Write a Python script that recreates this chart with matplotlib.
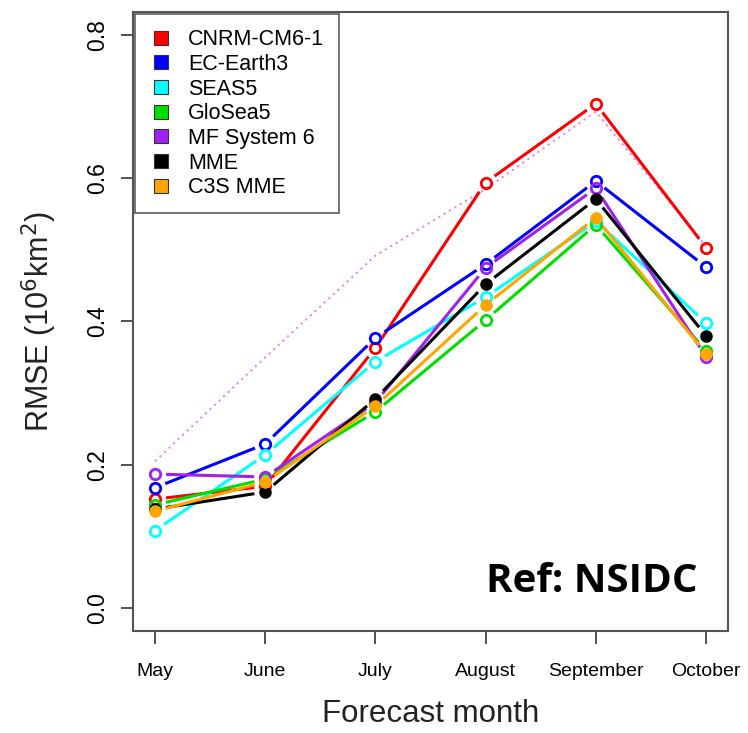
import numpy as np
import matplotlib
matplotlib.use('Agg')
import matplotlib.pyplot as plt
from matplotlib.lines import Line2D

months = ['May', 'June', 'July', 'August', 'September', 'October']

cnrm = [0.152, 0.170, 0.363, 0.594, 0.704, 0.503]
ecearth = [0.168, 0.229, 0.377, 0.480, 0.596, 0.476]
seas5 = [0.108, 0.214, 0.344, 0.434, 0.540, 0.398]
glosea = [0.144, 0.180, 0.274, 0.402, 0.535, 0.359]
mfsys = [0.187, 0.183, 0.287, 0.475, 0.586, 0.351]
mme = [0.138, 0.162, 0.292, 0.452, 0.571, 0.380]
c3s_mme = [0.135, 0.176, 0.282, 0.423, 0.545, 0.355]
dotted = [0.205, 0.350, 0.492, 0.585, 0.693, 0.505]

names = ['CNRM-CM6-1', 'EC-Earth3', 'SEAS5', 'GloSea5', 'MF System 6', 'MME', 'C3S MME']
colors = ['#ff0000', '#0000ff', '#00ffff', '#00e000', '#a020f0', '#000000', '#ffa500']
series = [cnrm, ecearth, seas5, glosea, mfsys, mme, c3s_mme]
filled = [False, False, False, False, False, True, True]

plt.rcParams['font.family'] = ['Liberation Sans', 'DejaVu Sans']

fig = plt.figure(figsize=(7.48, 7.33), dpi=100)
ax = fig.add_axes([0.1778, 0.1392, 0.7955, 0.8444])
x = np.arange(1, 7)
ax.set_xlim(0.8, 6.2)
ax.set_ylim(-0.032, 0.832)

# dotted reference line (no legend entry)
ax.plot(x, dotted, color='#ee82ee', lw=1.5, ls=(0, (1, 2)), zorder=1)


def gapped(ax, xs, ys, color, gap=11):
    # R type="b": segments stop short of the points
    pts = ax.transData.transform(np.column_stack([xs, ys]))
    inv = ax.transData.inverted()
    for p0, p1 in zip(pts[:-1], pts[1:]):
        d = p1 - p0
        L = np.hypot(*d)
        if L <= 2 * gap:
            continue
        u = d / L
        a = inv.transform(p0 + u * gap)
        b = inv.transform(p1 - u * gap)
        ax.plot([a[0], b[0]], [a[1], b[1]], color=color, lw=2.2,
                solid_capstyle='butt', zorder=2)


for ys, c, f in zip(series, colors, filled):
    gapped(ax, x, ys, c)
    if f:
        ax.plot(x, ys, 'o', ms=8, color=c, mec=c, zorder=3)
    else:
        ax.plot(x, ys, 'o', ms=7.5, mfc='none', mec=c, mew=2.0, zorder=3)

ax.set_xticks(x)
ax.set_xticklabels(months, fontsize=14)
ax.set_yticks([0.0, 0.2, 0.4, 0.6, 0.8])
ax.set_yticklabels(['0.0', '0.2', '0.4', '0.6', '0.8'], fontsize=16.5,
                   rotation=90, va='center')
ax.tick_params(axis='x', length=9, width=1.2, pad=14, color='#333333')
ax.tick_params(axis='y', length=9, width=1.2, pad=8, color='#333333')
for s in ax.spines.values():
    s.set_color('#555555')
    s.set_linewidth(1.5)

ax.set_xlabel('Forecast month', fontsize=22.5, labelpad=14, color='#222222')
ax.set_ylabel('RMSE (10$^6$km$^2$)', fontsize=22, labelpad=20, color='#222222')

ax.text(0.948, 0.08, 'Ref: NSIDC', transform=ax.transAxes, ha='right',
        va='center', fontsize=29, fontweight='bold', family='Open Sans')

handles = [Line2D([], [], ls='none', marker='s', ms=10, mfc=c, mec='#333333',
                  mew=0.8) for c in colors]
leg = ax.legend(handles, names, loc='upper left', bbox_to_anchor=(0.0, 1.0),
                fontsize=15.5, frameon=True, fancybox=False, borderpad=0.7,
                labelspacing=0.17, handletextpad=0.75, borderaxespad=0.1,
                handlelength=1.0)
leg.get_frame().set_edgecolor('#333333')
leg.get_frame().set_linewidth(1.2)

fig.savefig('out.png', dpi=100)
